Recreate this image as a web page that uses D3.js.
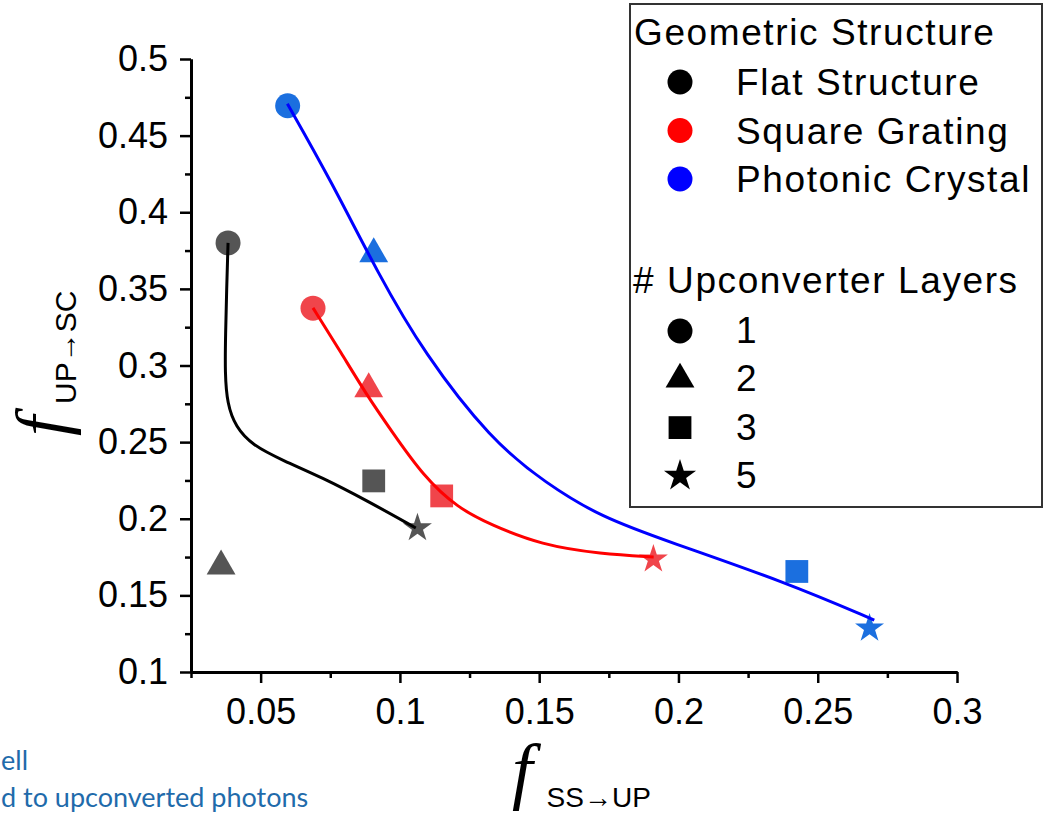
<!DOCTYPE html>
<html>
<head>
<meta charset="utf-8">
<script src="https://cdn.jsdelivr.net/npm/d3@7"></script>
<style>
  body { margin: 0; background: #fff; }
  svg { display: block; }
</style>
</head>
<body>
<div id="chart"></div>
<script>
// Data
const structures = ["Flat Structure", "Square Grating", "Photonic Crystal"];
const layers = ["1", "2", "3", "5"];

// markers: one per layer count (1, 2, 3, 5)
const flatX = [0.0383, 0.0358, 0.0906, 0.1063];
const flatY = [0.380, 0.169, 0.2247, 0.194];
const gratingX = [0.0688, 0.0888, 0.1150, 0.1910];
const gratingY = [0.3374, 0.2847, 0.2149, 0.1736];
const crystalX = [0.0597, 0.0906, 0.2425, 0.2686];
const crystalY = [0.4695, 0.3728, 0.1656, 0.1285];

// guide curves drawn through the points
const flatCurveX = [0.0383, 0.0378, 0.0374, 0.0372, 0.0380, 0.0410, 0.0470, 0.0580, 0.0720, 0.0880, 0.1057];
const flatCurveY = [0.380, 0.350, 0.320, 0.295, 0.275, 0.260, 0.248, 0.238, 0.227, 0.212, 0.194];
const gratingCurveX = [0.0688, 0.0790, 0.0880, 0.0967, 0.1086, 0.1208, 0.1327, 0.1507, 0.1723, 0.1911];
const gratingCurveY = [0.3376, 0.3080, 0.2810, 0.2580, 0.2273, 0.2070, 0.1960, 0.1829, 0.1770, 0.1751];
const crystalCurveX = [0.0596, 0.0751, 0.0924, 0.1086, 0.1327, 0.1525, 0.1723, 0.1965, 0.2383, 0.2703];
const crystalCurveY = [0.4708, 0.4211, 0.3591, 0.3082, 0.2514, 0.2230, 0.2010, 0.1850, 0.1587, 0.1339];

const xTicks = [0.05, 0.1, 0.15, 0.2, 0.25, 0.3];
const xMinor = [0.025, 0.075, 0.125, 0.175, 0.225, 0.275];
const yTicks = [0.1, 0.15, 0.2, 0.25, 0.3, 0.35, 0.4, 0.45, 0.5];
const yMinor = [0.125, 0.175, 0.225, 0.275, 0.325, 0.375, 0.425, 0.475];

// Canvas
const W = 1048, H = 814;
const svg = d3.select("#chart").append("svg").attr("width", W).attr("height", H);

const x = d3.scaleLinear().domain([0.025, 0.3]).range([191, 957]);
const y = d3.scaleLinear().domain([0.1, 0.5]).range([672, 59]);

const markerColor = ["#555555", "#f0454b", "#1b6fdf"];
const lineColor = ["#000000", "#ff0000", "#0000ff"];
const legendColor = ["#000000", "#ff0000", "#0000ff"];
const shapes = [d3.symbolCircle, d3.symbolTriangle, d3.symbolSquare, d3.symbolStar];
const sizes = [490, 360, 520, 260];

// Axes
const axisFont = "'Liberation Sans', Arial, sans-serif";

function styleAxis(g) {
  g.select(".domain").attr("stroke", "#000").attr("stroke-width", 3);
  g.selectAll(".tick line").attr("stroke", "#000").attr("stroke-width", 2.5);
  g.selectAll(".tick text")
    .attr("fill", "#000")
    .style("font-family", axisFont)
    .style("font-size", "36px");
}

svg.append("g")
  .attr("transform", "translate(0,672)")
  .call(d3.axisBottom(x).tickValues(xTicks).tickFormat(d3.format("")).tickSize(11).tickSizeOuter(0).tickPadding(15))
  .call(styleAxis);
svg.append("g")
  .attr("transform", "translate(0,672)")
  .call(d3.axisBottom(x).tickValues(xMinor).tickFormat("").tickSize(6).tickSizeOuter(0))
  .call(styleAxis);

svg.append("g")
  .attr("transform", "translate(191,0)")
  .call(d3.axisLeft(y).tickValues(yTicks).tickFormat(d3.format("")).tickSize(11).tickSizeOuter(0).tickPadding(12))
  .call(styleAxis);
svg.append("g")
  .attr("transform", "translate(191,0)")
  .call(d3.axisLeft(y).tickValues(yMinor).tickFormat("").tickSize(6).tickSizeOuter(0))
  .call(styleAxis);

// Axis titles
const xTitle = svg.append("text")
  .attr("x", 512)
  .attr("y", 795)
  .attr("fill", "#000");
xTitle.append("tspan")
  .style("font-family", "'Liberation Serif', 'Times New Roman', serif")
  .style("font-style", "italic")
  .style("font-size", "74px")
  .text("f");
xTitle.append("tspan")
  .attr("dx", 14)
  .attr("dy", 12)
  .style("font-family", axisFont)
  .style("font-size", "28px")
  .text("SS\u2192UP");

const yTitle = svg.append("text")
  .attr("transform", "translate(66,436) rotate(-90)")
  .attr("fill", "#000");
yTitle.append("tspan")
  .style("font-family", "'Liberation Serif', 'Times New Roman', serif")
  .style("font-style", "italic")
  .style("font-size", "72px")
  .text("f");
yTitle.append("tspan")
  .attr("dx", 12)
  .attr("dy", 10)
  .style("font-family", axisFont)
  .style("font-size", "30px")
  .text("UP\u2192SC");

// Markers
const markerSets = [
  { xs: flatX, ys: flatY },
  { xs: gratingX, ys: gratingY },
  { xs: crystalX, ys: crystalY }
];
markerSets.forEach((set, si) => {
  svg.append("g")
    .selectAll("path")
    .data(set.xs.map((v, i) => ({ x: v, y: set.ys[i], layer: i })))
    .enter()
    .append("path")
    .attr("transform", (d) => "translate(" + x(d.x) + "," + y(d.y) + ")")
    .attr("d", (d) => d3.symbol().type(shapes[d.layer]).size(sizes[d.layer])())
    .attr("fill", markerColor[si]);
});

// Curves
const curves = [
  { xs: flatCurveX, ys: flatCurveY },
  { xs: gratingCurveX, ys: gratingCurveY },
  { xs: crystalCurveX, ys: crystalCurveY }
];
const line = d3.line()
  .x((d) => x(d[0]))
  .y((d) => y(d[1]))
  .curve(d3.curveBasis);
curves.forEach((c, ci) => {
  svg.append("path")
    .datum(c.xs.map((v, i) => [v, c.ys[i]]))
    .attr("d", line)
    .attr("fill", "none")
    .attr("stroke", lineColor[ci])
    .attr("stroke-width", 3);
});

// Legend
const legend = svg.append("g").attr("id", "legend");
legend.append("rect")
  .attr("x", 630)
  .attr("y", 4)
  .attr("width", 412)
  .attr("height", 503)
  .attr("fill", "#fff")
  .attr("stroke", "#333")
  .attr("stroke-width", 2);

const legendFont = (sel) => sel
  .attr("fill", "#000")
  .style("font-family", axisFont)
  .style("font-size", "37px")
  .style("letter-spacing", "1.6px");

legend.append("text").attr("x", 634).attr("y", 45).text("Geometric Structure").call(legendFont);
const structRows = legend.selectAll(".struct").data(structures).enter().append("g")
  .attr("class", "struct")
  .attr("transform", (d, i) => "translate(0," + (95 + i * 48.5) + ")");
structRows.append("circle").attr("cx", 680).attr("cy", -13).attr("r", 12.5)
  .attr("fill", (d, i) => legendColor[i]);
structRows.append("text").attr("x", 736).attr("y", 0).text((d) => d).call(legendFont);

legend.append("text").attr("x", 633).attr("y", 293).text("# Upconverter Layers").call(legendFont);
const layerRows = legend.selectAll(".layer").data(layers).enter().append("g")
  .attr("class", "layer")
  .attr("transform", (d, i) => "translate(0," + (343 + i * 48.3) + ")");
layerRows.append("path")
  .attr("transform", "translate(680,-12)")
  .attr("d", (d, i) => d3.symbol().type(shapes[i]).size(i === 3 ? 320 : sizes[i])())
  .attr("fill", "#000");
layerRows.append("text").attr("x", 736).attr("y", 0).text((d) => d).call(legendFont);

// Cropped document text at bottom-left
const docText = (sel) => sel
  .attr("fill", "#1f6bab")
  .style("font-family", "Lato, 'Open Sans', sans-serif")
  .style("font-size", "27px");
svg.append("text").attr("x", 1).attr("y", 770).text("ell").call(docText);
svg.append("text").attr("x", 1).attr("y", 807).text("d to upconverted photons").call(docText);
</script>
</body>
</html>
